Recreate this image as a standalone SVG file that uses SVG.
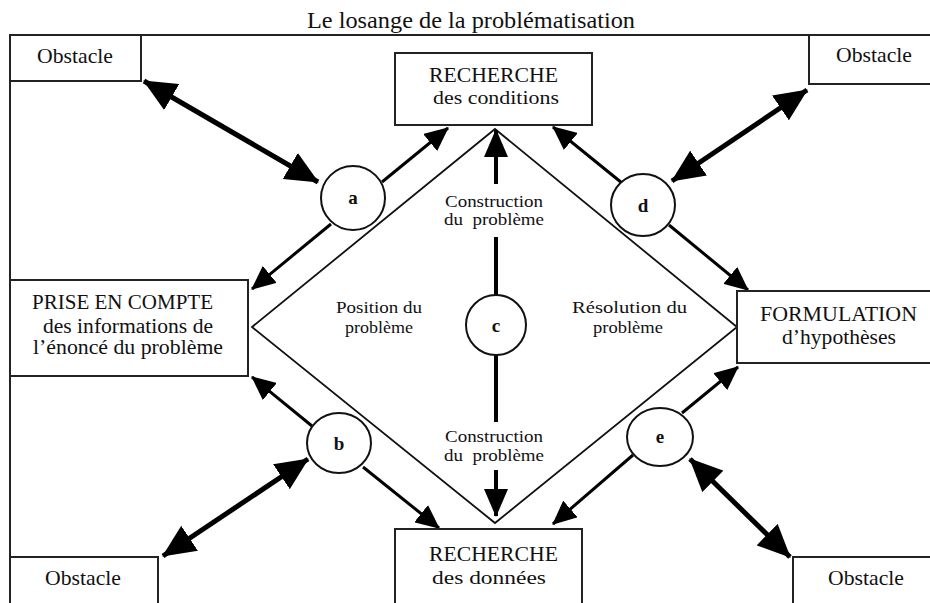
<svg xmlns="http://www.w3.org/2000/svg" width="930" height="603" viewBox="0 0 930 603">
<defs>
<style>
text{font-family:"Liberation Serif","Times New Roman",serif;fill:#111}
.box{fill:#fff;stroke:#222;stroke-width:2}
.t21{font-size:21px}
.t20{font-size:20px}
.t19{font-size:19px}
.t17{font-size:17px}
.lbl{font-size:19px;font-weight:bold;text-anchor:middle}
.circ{fill:#fff;stroke:#111;stroke-width:2}
.thin{stroke:#000;stroke-width:3;fill:none;marker-end:url(#ah)}
.thick{stroke:#000;stroke-width:5;fill:none;marker-end:url(#bh);marker-start:url(#bh)}
.vert{stroke:#000;stroke-width:4;fill:none}
</style>
<marker id="ah" markerUnits="userSpaceOnUse" markerWidth="24" markerHeight="22" refX="23" refY="11" orient="auto"><path d="M0,0 L24,11 L0,22 z" fill="#000"/></marker>
<marker id="bh" markerUnits="userSpaceOnUse" markerWidth="33" markerHeight="30" refX="32" refY="15" orient="auto-start-reverse"><path d="M0,0 L33,15 L0,30 z" fill="#000"/></marker>
<marker id="vh" markerUnits="userSpaceOnUse" markerWidth="28" markerHeight="24" refX="27" refY="12" orient="auto"><path d="M0,0 L28,12 L0,24 z" fill="#000"/></marker>
</defs>
<rect width="930" height="603" fill="#fff"/>
<text x="307" y="28" font-size="23" textLength="328" lengthAdjust="spacingAndGlyphs">Le losange de la problématisation</text>
<g id="frame" stroke="#222" stroke-width="2" fill="none"><path d="M10,35 H932 M10,35 V605"/></g>
<g id="diamond"><polygon points="495,129 737,327 495,523 252,327" fill="none" stroke="#111" stroke-width="1.8"/>
<text class="t17" x="445" y="207" textLength="98" lengthAdjust="spacingAndGlyphs">Construction</text>
<text class="t17" x="444" y="225" textLength="100" lengthAdjust="spacingAndGlyphs">du&#160; problème</text>
<text class="t17" x="445" y="442" textLength="98" lengthAdjust="spacingAndGlyphs">Construction</text>
<text class="t17" x="444" y="461" textLength="100" lengthAdjust="spacingAndGlyphs">du&#160; problème</text>
<text class="t17" x="336" y="313" textLength="86" lengthAdjust="spacingAndGlyphs">Position du</text>
<text class="t17" x="345" y="333" textLength="68" lengthAdjust="spacingAndGlyphs">problème</text>
<text class="t17" x="572" y="313" textLength="115" lengthAdjust="spacingAndGlyphs">Résolution du</text>
<text class="t17" x="593" y="333" textLength="70" lengthAdjust="spacingAndGlyphs">problème</text>
</g>
<g id="connectors">
<line class="thick" x1="144" y1="81" x2="318" y2="182"/>
<line class="thin" x1="382" y1="182" x2="448" y2="128"/>
<line class="thin" x1="331" y1="224" x2="252" y2="289"/>
<line class="thin" x1="622" y1="183" x2="553" y2="127"/>
<line class="thin" x1="669" y1="225" x2="748" y2="290"/>
<line class="thick" x1="672" y1="181" x2="807" y2="90"/>
<line class="thin" x1="312" y1="426" x2="252" y2="377"/>
<line class="thin" x1="363" y1="467" x2="439" y2="528"/>
<line class="thick" x1="308" y1="459" x2="163" y2="556"/>
<line class="thin" x1="682" y1="413" x2="738" y2="367"/>
<line class="thin" x1="633" y1="455" x2="553" y2="524"/>
<line class="thick" x1="690" y1="459" x2="790" y2="557"/>
<line class="vert" x1="496" y1="295" x2="496" y2="237"/>
<line class="vert" x1="496" y1="184" x2="496" y2="130" marker-end="url(#vh)"/>
<line class="vert" x1="496" y1="355" x2="496" y2="422"/>
<line class="vert" x1="496" y1="470" x2="496" y2="516" marker-end="url(#vh)"/>
</g>
<g id="obstacle-tl"><rect class="box" x="10" y="35" width="131" height="46"/><text class="t21" x="37" y="63" textLength="76" lengthAdjust="spacingAndGlyphs">Obstacle</text></g>
<g id="obstacle-tr"><rect class="box" x="809" y="35" width="130" height="49"/><text class="t21" x="836" y="62" textLength="76" lengthAdjust="spacingAndGlyphs">Obstacle</text></g>
<g id="obstacle-bl"><rect class="box" x="10" y="557" width="148" height="50"/><text class="t21" x="45" y="585" textLength="76" lengthAdjust="spacingAndGlyphs">Obstacle</text></g>
<g id="obstacle-br"><rect class="box" x="793" y="557" width="145" height="50"/><text class="t21" x="828" y="585" textLength="76" lengthAdjust="spacingAndGlyphs">Obstacle</text></g>
<g id="recherche-conditions"><rect class="box" x="395" y="53" width="197" height="72"/>
<text class="t20" x="429" y="82" textLength="129" lengthAdjust="spacingAndGlyphs">RECHERCHE</text>
<text class="t19" x="433" y="104" textLength="126" lengthAdjust="spacingAndGlyphs">des conditions</text></g>
<g id="recherche-donnees"><rect class="box" x="395" y="529" width="187" height="80"/>
<text class="t20" x="429" y="561" textLength="129" lengthAdjust="spacingAndGlyphs">RECHERCHE</text>
<text class="t19" x="432" y="584" textLength="114" lengthAdjust="spacingAndGlyphs">des données</text></g>
<g id="prise-en-compte"><rect class="box" x="10" y="280" width="238" height="96"/>
<text class="t20" x="32" y="309" textLength="181" lengthAdjust="spacingAndGlyphs">PRISE EN COMPTE</text>
<text class="t20" x="43" y="333" textLength="170" lengthAdjust="spacingAndGlyphs">des informations de</text>
<text class="t20" x="33" y="354" textLength="190" lengthAdjust="spacingAndGlyphs">l’énoncé du problème</text></g>
<g id="formulation"><rect class="box" x="737" y="291" width="200" height="72"/>
<text class="t21" x="760" y="321" textLength="157" lengthAdjust="spacingAndGlyphs">FORMULATION</text>
<text class="t21" x="782" y="344" textLength="114" lengthAdjust="spacingAndGlyphs">d’hypothèses</text></g>
<g id="node-a"><ellipse class="circ" cx="353" cy="198" rx="32" ry="32"/><text class="lbl" x="353" y="204">a</text></g>
<g id="node-b"><ellipse class="circ" cx="339" cy="443" rx="32" ry="30"/><text class="lbl" x="339" y="450">b</text></g>
<g id="node-c"><ellipse class="circ" cx="496" cy="325" rx="30" ry="30"/><text class="lbl" x="496" y="332">c</text></g>
<g id="node-d"><ellipse class="circ" cx="643" cy="205" rx="32" ry="31"/><text class="lbl" x="643" y="212">d</text></g>
<g id="node-e"><ellipse class="circ" cx="660" cy="437" rx="33" ry="29"/><text class="lbl" x="660" y="443">e</text></g>
</svg>
